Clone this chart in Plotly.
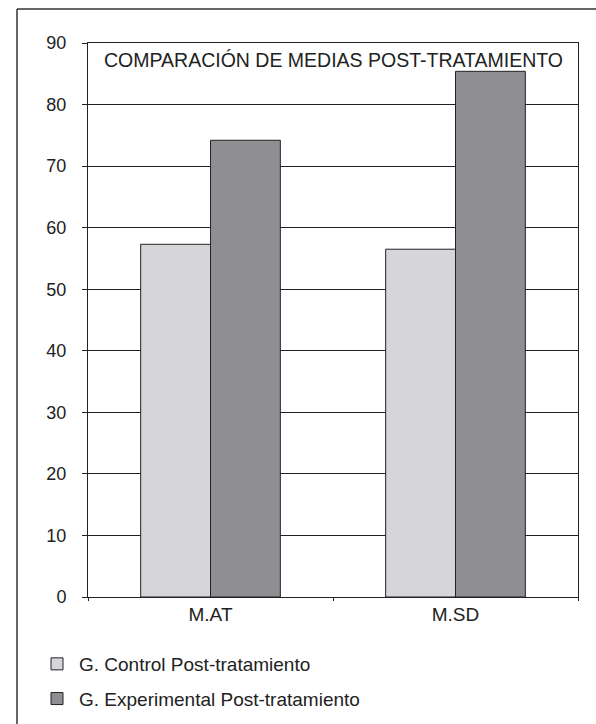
import plotly.graph_objects as go

# Datos: medias post-tratamiento por escala
categorias = ["M.AT", "M.SD"]
control_post = [57.3, 56.5]
experimental_post = [74.2, 85.4]
ticks_y = [0, 10, 20, 30, 40, 50, 60, 70, 80, 90]

W, H = 596, 724
L, R, T, B = 88, 18, 43, 127
pw, ph = W - L - R, H - T - B

def px_x(x):
    return (x - L) / pw

def px_y(y):
    return (H - B - y) / ph

FONT = "Liberation Sans, Arial, sans-serif"

fig = go.Figure()
fig.add_trace(go.Bar(
    x=categorias, y=control_post, name="G. Control Post-tratamiento",
    legendgroup="c",
    marker=dict(color="#d6d6da", line=dict(color="#222222", width=1)),
))
fig.add_trace(go.Bar(
    x=categorias, y=experimental_post, name="G. Experimental Post-tratamiento",
    legendgroup="e",
    marker=dict(color="#8f8f93", line=dict(color="#222222", width=1)),
))

fig.update_layout(
    width=W, height=H,
    margin=dict(l=L, r=R, t=T, b=B, autoexpand=False),
    paper_bgcolor="white", plot_bgcolor="white",
    barmode="group", bargap=0.43, bargroupgap=0,
    font=dict(family=FONT, color="#222222", size=18),
    showlegend=True,
    legend=dict(
        x=px_x(35), y=px_y(645), xanchor="left", yanchor="top",
        orientation="v", tracegroupgap=7, itemwidth=34,
        font=dict(size=19, family=FONT, color="#222222"),
        bgcolor="rgba(0,0,0,0)",
    ),
    xaxis=dict(
        showline=True, linecolor="#222222", linewidth=1, mirror=True,
        ticks="outside", tickson="boundaries", ticklen=3,
        tickcolor="#222222",
        tickfont=dict(size=19), showgrid=False,
    ),
    yaxis=dict(
        range=[0, 90], tickvals=ticks_y,
        showline=True, linecolor="#222222", linewidth=1, mirror=True,
        ticks="outside", ticklen=5, tickcolor="#222222",
        ticklabelstandoff=12,
        showgrid=True, gridcolor="#222222", gridwidth=1,
        zeroline=False, tickfont=dict(size=18),
    ),
    annotations=[dict(
        text="COMPARACIÓN DE MEDIAS POST-TRATAMIENTO",
        xref="paper", yref="paper", x=0.5, y=px_y(60),
        xanchor="center", yanchor="middle", showarrow=False,
        font=dict(size=19.5, family=FONT, color="#222222"),
    )],
    shapes=[
        dict(type="line", xref="paper", yref="paper",
             x0=px_x(17), x1=px_x(600), y0=px_y(9), y1=px_y(9),
             line=dict(color="#333333", width=1.5)),
        dict(type="line", xref="paper", yref="paper",
             x0=px_x(17), x1=px_x(17), y0=px_y(9), y1=px_y(730),
             line=dict(color="#333333", width=1.5)),
    ],
)

fig.write_html("out.html")
